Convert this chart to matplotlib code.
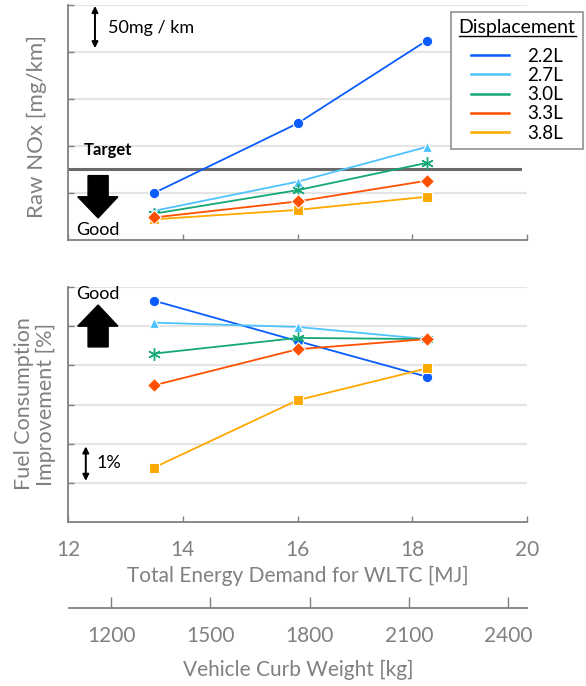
import matplotlib.pyplot as plt
from matplotlib.lines import Line2D

plt.rcParams['font.family'] = ['Lato', 'DejaVu Sans']

# engine displacement variants
displacement = ['2.2L', '2.7L', '3.0L', '3.3L', '3.8L']
energy_mj = [13.5, 16.0, 18.25]

# raw NOx [mg/km]
nox_22 = [50, 124, 212]
nox_27 = [31, 62, 99]
nox_30 = [28, 53, 82]
nox_33 = [24, 41, 63]
nox_38 = [22, 32, 46]
nox_target = 76

# fuel consumption improvement [%] (relative scale)
fc_22 = [5.65, 4.62, 3.71]
fc_27 = [5.09, 4.98, 4.67]
fc_30 = [4.30, 4.70, 4.67]
fc_33 = [3.49, 4.41, 4.67]
fc_38 = [1.39, 3.11, 3.92]

weight_ticks = [1200, 1500, 1800, 2100, 2400]
energy_ticks = [12, 14, 16, 18, 20]

nox_all = [nox_22, nox_27, nox_30, nox_33, nox_38]
fc_all = [fc_22, fc_27, fc_30, fc_33, fc_38]

colors = ['#0a5cff', '#4fc3ff', '#14a874', '#ff4f00', '#ffa800']
markers = ['o', '^', (6, 2, 0), 'D', 's']
msizes = [7.5, 7.5, 9, 7, 7]
zorders = [2.5, 3, 3, 5, 4]

GRAY = '#808080'
W, H = 586, 686


def px_rect(l, t, r, b):
    return [l / W, 1 - b / H, (r - l) / W, (b - t) / H]


fig = plt.figure(figsize=(W / 100, H / 100), dpi=100)
ax1 = fig.add_axes(px_rect(68, 5, 527, 240))
ax2 = fig.add_axes(px_rect(68, 287, 527, 522))
ax3 = fig.add_axes(px_rect(69, 598, 527, 608))

for ax in (ax1, ax2):
    for s in ('top', 'right'):
        ax.spines[s].set_visible(False)
    for s in ('left', 'bottom'):
        ax.spines[s].set_color(GRAY)
        ax.spines[s].set_linewidth(1.3)
    ax.set_xlim(12, 20)
    ax.set_xticks(energy_ticks)
    ax.tick_params(direction='in', length=4, width=1, color=GRAY,
                   labelleft=False)
    ax.grid(axis='y', color='#e4e4e4', lw=1.5, zorder=0)
    ax.set_axisbelow(True)

ax1.set_ylim(0, 250)
ax1.set_yticks([50, 100, 150, 200, 250])
ax1.tick_params(labelbottom=False)
ax2.set_ylim(0, 6)
ax2.set_yticks([1, 2, 3, 4, 5, 6])
ax2.tick_params(axis='x', labelsize=15, labelcolor=GRAY, pad=13)
ax2.set_xlabel('Total Energy Demand for WLTC [MJ]', fontsize=15,
               color=GRAY, labelpad=4)

for nox, fc, c, m, ms, z in zip(nox_all, fc_all, colors, markers, msizes, zorders):
    mec = c if m == (6, 2, 0) else 'white'
    mew = 1.0 if m == (6, 2, 0) else 0.8
    ax1.plot(energy_mj, nox, color=c, lw=1.3, marker=m, ms=ms, mec=mec,
             mew=mew, zorder=z, clip_on=False)
    ax2.plot(energy_mj, fc, color=c, lw=1.3, marker=m, ms=ms, mec=mec,
             mew=mew, zorder=z, clip_on=False)

# target line and annotations on the NOx panel
ax1.axhline(nox_target, xmin=0, xmax=0.985, color='#6a6a6a', lw=2.2, zorder=2)
ax1.text(12.27, 96, 'Target', fontsize=12, fontweight='bold', va='center')
ax1.annotate('', xy=(12.47, 249), xytext=(12.47, 204),
             arrowprops=dict(arrowstyle='<|-|>', lw=1.4, color='k',
                             mutation_scale=9, shrinkA=0, shrinkB=0),
             annotation_clip=False)
ax1.text(12.7, 226, '50mg / km', fontsize=13, va='center')
ax1.fill([12.35, 12.70, 12.70, 12.87, 12.525, 12.17, 12.35],
         [68.5, 68.5, 46, 46, 23.5, 46, 46], color='k', zorder=4)
ax1.text(12.14, 10.5, 'Good', fontsize=13, va='center')

# annotations on the fuel consumption panel
ax2.text(12.14, 5.82, 'Good', fontsize=13, va='center')
ax2.fill([12.35, 12.70, 12.70, 12.87, 12.525, 12.17, 12.35],
         [4.47, 4.47, 5.0, 5.0, 5.54, 5.0, 5.0], color='k', zorder=4)
ax2.annotate('', xy=(12.31, 1.93), xytext=(12.31, 1.05),
             arrowprops=dict(arrowstyle='<|-|>', lw=1.4, color='k',
                             mutation_scale=9, shrinkA=0, shrinkB=0))
ax2.text(12.5, 1.5, '1%', fontsize=13, va='center')

# legend
handles = [Line2D([], [], color=c, lw=1.8) for c in colors]
leg = ax1.legend(handles, displacement, title='Displacement',
                 loc='upper right', bbox_to_anchor=(583 / W, 1 - 12 / H),
                 bbox_transform=fig.transFigure, borderaxespad=0,
                 fontsize=13.5, title_fontsize=14, fancybox=False,
                 framealpha=1, edgecolor='#999999', handlelength=2.0,
                 labelspacing=0.12, borderpad=0.4, handletextpad=1.0)
leg.get_frame().set_linewidth(1.3)
leg._legend_box.sep = 8

# vehicle weight axis underneath
for s in ('top', 'right', 'left'):
    ax3.spines[s].set_visible(False)
ax3.spines['bottom'].set_color(GRAY)
ax3.spines['bottom'].set_linewidth(1.3)
ax3.patch.set_visible(False)
ax3.set_yticks([])
ax3.set_xlim(1073, 2457)
ax3.set_xticks(weight_ticks)
ax3.tick_params(axis='x', direction='in', length=8, width=1, color=GRAY,
                labelsize=15, labelcolor=GRAY, pad=13)
ax3.set_xlabel('Vehicle Curb Weight [kg]', fontsize=15, color=GRAY,
               labelpad=10)

# y axis titles
fig.text(37 / W, 1 - 126 / H, 'Raw NOx [mg/km]', rotation=90, fontsize=16,
         color=GRAY, ha='center', va='center')
fig.text(35 / W, 1 - 404 / H, 'Fuel Consumption\nImprovement [%]',
         rotation=90, fontsize=15.5, color=GRAY, ha='center', va='center',
         linespacing=1.1, multialignment='center')

# underline the legend title
fig.canvas.draw()
bb = leg.get_title().get_window_extent()
y_ul = (bb.y0 + 1) / H
fig.add_artist(Line2D([bb.x0 / W, bb.x1 / W], [y_ul, y_ul], color='k', lw=1.0))

fig.savefig('out.png', dpi=100)
